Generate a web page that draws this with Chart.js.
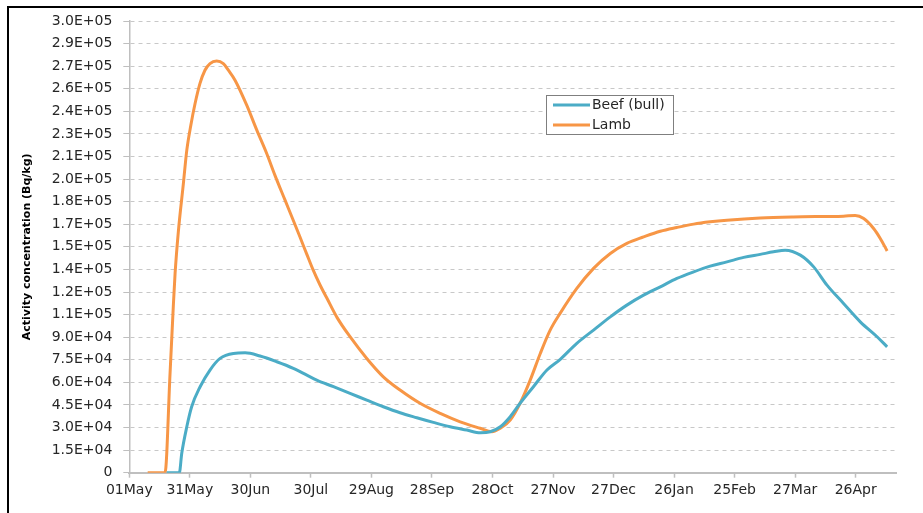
<!DOCTYPE html>
<html>
<head>
<meta charset="utf-8">
<script src="https://cdn.jsdelivr.net/npm/chart.js@4.4.1/dist/chart.umd.min.js"></script>
<style>
    html, body { margin: 0; background: #fff; overflow: hidden; }
    #wrap { position: absolute; left: 0; top: 0; width: 923px; height: 513px; }
</style>
</head>
<body>
<div id="wrap"><canvas id="activityChart"></canvas></div>
<script>
// days counted from 01 May
const tickDays = [0, 30, 60, 90, 120, 150, 180, 210, 240, 270, 300, 330, 360];
const tickLabels = ['01May', '31May', '30Jun', '30Jul', '29Aug', '28Sep', '28Oct', '27Nov', '27Dec', '26Jan', '25Feb', '27Mar', '26Apr'];

const yTickValues = [0, 15000, 30000, 45000, 60000, 75000, 90000, 105000, 120000, 135000, 150000,
    165000, 180000, 195000, 210000, 225000, 240000, 255000, 270000, 285000, 300000];
const yTickLabels = ['0', '1.5E+04', '3.0E+04', '4.5E+04', '6.0E+04', '7.5E+04', '9.0E+04', '1.1E+05', '1.2E+05', '1.4E+05', '1.5E+05',
    '1.7E+05', '1.8E+05', '2.0E+05', '2.1E+05', '2.3E+05', '2.4E+05', '2.6E+05', '2.7E+05', '2.9E+05', '3.0E+05'];

const beefDays = [18.5, 24.8, 26.0, 28.5, 30.9, 35.1, 40.0, 45.0, 51.6, 57.4, 64.8, 73.1, 81.3, 88.0, 92.9, 101.2,
    109.4, 117.7, 125.9, 134.2, 142.5, 150.7, 159.0, 167.3, 174.0, 178.9, 183.9, 188.8, 193.7, 200.3, 207.0, 213.6,
    221.8, 230.1, 238.4, 246.6, 254.9, 263.2, 271.4, 279.7, 287.9, 296.2, 304.5, 312.7, 319.3, 325.1, 332.6, 339.2,
    345.8, 354.0, 362.3, 370.6, 375.6];
const beefValues = [0, 0, 12900, 30500, 43800, 57100, 68200, 75900, 79200, 79600, 77500, 73700, 69300, 64800, 61500, 57100,
    52700, 48200, 43800, 39800, 36500, 33400, 30500, 28300, 26500, 27200, 30500, 37200, 46100, 57100, 68200, 75300,
    85900, 94700, 103500, 111300, 117900, 123400, 129000, 133400, 137200, 140000, 143000, 145000, 146700, 147800, 144500, 136700,
    124600, 112400, 100200, 90300, 83600];

const lambDays = [9.1, 17.7, 20.2, 21.8, 22.7, 24.3, 26.8, 28.5, 30.5, 32.6, 35.0, 37.5, 40.0, 43.3, 46.6, 49.1,
    52.4, 58.2, 63.2, 68.1, 72.2, 77.2, 81.3, 84.6, 88.0, 91.0, 94.6, 97.9, 103.0, 109.4, 117.7, 125.9, 134.2, 144.1,
    154.1, 164.0, 173.9, 179.7, 183.9, 188.8, 193.7, 198.7, 203.7, 208.6, 213.6, 221.8, 230.1, 238.4, 246.6, 254.9,
    263.2, 271.4, 279.7, 287.9, 296.2, 312.7, 329.1, 354.0, 359.8, 364.0, 368.9, 372.2, 375.6];
const lambValues = [0, 0, 66000, 110200, 132500, 160000, 192000, 214200, 230800, 245200, 258400, 267300, 271700, 273400, 271700, 267300,
    260700, 244100, 227500, 212000, 197500, 181000, 167500, 156500, 145000, 135000, 124500, 116000, 103000, 90300, 75900, 63700, 54900, 46100,
    39400, 33800, 29500, 27200, 29500, 35000, 46100, 61500, 79200, 94700, 106000, 122400, 135700, 145600, 152300, 156600,
    160400, 162900, 165100, 166600, 167700, 169200, 169900, 170400, 170800, 168800, 162200, 155600, 147300];

const seriesNames = ['Beef (bull)', 'Lamb'];
const seriesColors = ['#4bacc6', '#f79646'];

function toPoints(days, values) {
    return days.map((d, i) => ({ x: d, y: values[i] }));
}

// black frame on the left and top edges of the picture
const frameLines = {
    id: 'frameLines',
    beforeDraw(chart) {
        const ctx = chart.ctx;
        ctx.save();
        ctx.strokeStyle = '#000';
        ctx.lineWidth = 2;
        ctx.beginPath();
        ctx.moveTo(8, 513);
        ctx.lineTo(8, 7);
        ctx.lineTo(923, 7);
        ctx.stroke();
        ctx.restore();
    }
};

// legend box inside the plot, drawn by hand
const boxLegend = {
    id: 'boxLegend',
    afterDraw(chart) {
        const ctx = chart.ctx;
        const x0 = 546, y0 = 95, w = 127, h = 39;
        ctx.save();
        ctx.fillStyle = '#fff';
        ctx.fillRect(x0, y0, w, h);
        ctx.strokeStyle = '#7f7f7f';
        ctx.lineWidth = 1;
        ctx.strokeRect(x0 + 0.5, y0 + 0.5, w, h);
        ctx.font = '14px "DejaVu Sans"';
        ctx.textBaseline = 'middle';
        seriesNames.forEach((name, i) => {
            const y = y0 + 10 + i * 20;
            ctx.strokeStyle = seriesColors[i];
            ctx.lineWidth = 3;
            ctx.beginPath();
            ctx.moveTo(x0 + 7, y);
            ctx.lineTo(x0 + 44, y);
            ctx.stroke();
            ctx.fillStyle = '#262626';
            ctx.fillText(name, x0 + 46, y);
        });
        ctx.restore();
    }
};

const ctx = document.getElementById('activityChart').getContext('2d');
new Chart(ctx, {
    type: 'line',
    data: {
        datasets: [
            {
                label: seriesNames[0],
                data: toPoints(beefDays, beefValues),
                borderColor: seriesColors[0],
                borderWidth: 3,
                pointRadius: 0,
                cubicInterpolationMode: 'monotone'
            },
            {
                label: seriesNames[1],
                data: toPoints(lambDays, lambValues),
                borderColor: seriesColors[1],
                borderWidth: 3,
                pointRadius: 0,
                cubicInterpolationMode: 'monotone'
            }
        ]
    },
    options: {
        responsive: true,
        maintainAspectRatio: false,
        animation: false,
        layout: { padding: { left: 10, right: 27, top: 21, bottom: 0 } },
        plugins: {
            legend: { display: false },
            tooltip: { enabled: false }
        },
        scales: {
            x: {
                type: 'linear',
                min: 0,
                max: 380,
                afterBuildTicks: axis => { axis.ticks = tickDays.map(v => ({ value: v })); },
                afterFit: axis => { axis.height = 40.3; },
                grid: { drawOnChartArea: false, tickLength: 5, tickColor: '#bfbfbf', tickWidth: 1.5 },
                border: { color: '#bfbfbf', width: 2 },
                ticks: {
                    autoSkip: false,
                    maxRotation: 0,
                    padding: 4,
                    color: '#262626',
                    font: { family: 'DejaVu Sans', size: 14 },
                    callback: (v, i) => tickLabels[i]
                }
            },
            y: {
                min: 0,
                max: 300000,
                afterBuildTicks: axis => { axis.ticks = yTickValues.map(v => ({ value: v })); },
                afterFit: axis => { axis.width = 119.3; },
                grid: {
                    color: c => (c.tick && c.tick.value === 0) ? 'rgba(0,0,0,0)' : '#c8c8c8',
                    tickBorderDash: [],
                    tickColor: '#bfbfbf',
                    tickLength: 6,
                    lineWidth: 1
                },
                border: { color: '#bfbfbf', width: 1.5, dash: [4, 4] },
                ticks: {
                    autoSkip: false,
                    padding: 11,
                    color: '#262626',
                    font: { family: 'DejaVu Sans', size: 14 },
                    callback: (v, i) => yTickLabels[i]
                },
                title: {
                    display: true,
                    text: 'Activity concentration (Bq/kg)',
                    color: '#000',
                    padding: { top: 11, bottom: 0 },
                    font: { family: 'DejaVu Sans', size: 11, weight: 'bold' }
                }
            }
        }
    },
    plugins: [frameLines, boxLegend]
});
</script>
</body>
</html>
